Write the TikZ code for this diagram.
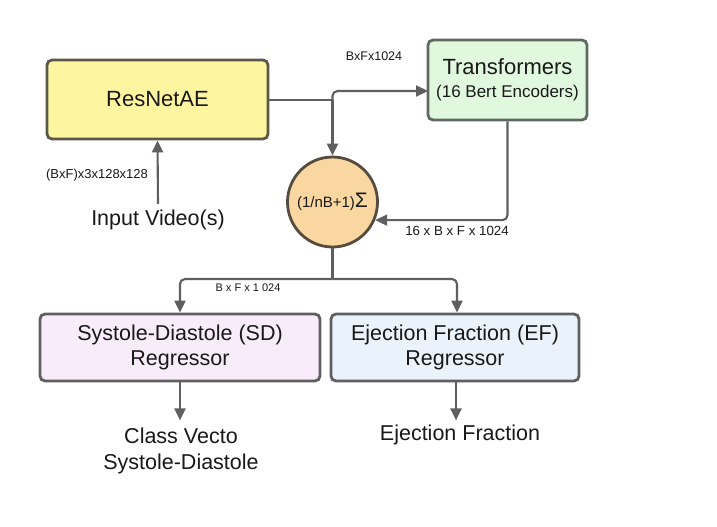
\documentclass[tikz,border=0pt]{standalone}
\usepackage{fontspec}
\setmainfont{Liberation Sans}
\usetikzlibrary{arrows.meta,calc}
\definecolor{linec}{RGB}{95,95,95}
\definecolor{resfill}{RGB}{255,245,160}
\definecolor{resdraw}{RGB}{90,88,72}
\definecolor{trfill}{RGB}{224,248,222}
\definecolor{trdraw}{RGB}{95,105,95}
\definecolor{cirfill}{RGB}{250,215,160}
\definecolor{cirdraw}{RGB}{85,75,62}
\definecolor{sdfill}{RGB}{249,236,250}
\definecolor{effill}{RGB}{234,242,252}
\definecolor{txt}{RGB}{25,25,25}
\tikzset{
  box/.style={draw=linec, line width=2.8pt, rounded corners=5pt, align=center,
    text=txt, font=\fontsize{21.5}{25}\selectfont, inner sep=0pt},
  conn/.style={draw=linec, line width=2.1pt},
  arr/.style={conn, -{Triangle[length=12pt,width=11pt]}},
  small/.style={text=txt, font=\fontsize{13}{15}\selectfont, inner sep=0pt},
  big/.style={text=txt, font=\fontsize{21.5}{26}\selectfont, align=center, inner sep=0pt},
}
\begin{document}
\begin{tikzpicture}[x=1pt,y=-1pt]
\useasboundingbox[fill=white] (0,0) rectangle (717,527);
\node[box, fill=resfill, draw=resdraw, minimum width=221pt, minimum height=79pt,
  font=\fontsize{22}{26}\selectfont] (res) at (157.5,99.5) {ResNetAE};
\node[box, fill=trfill, draw=trdraw, minimum width=159pt, minimum height=80pt,
  font=\fontsize{22}{26}\selectfont] (tr) at (507.5,80)
  {Transformers\\[-3pt]{\fontsize{17}{20}\selectfont(16 Bert Encoders)}};
\node[circle, draw=cirdraw, fill=cirfill, line width=2.8pt, minimum size=90pt, inner sep=0pt, text=txt,
  font=\fontsize{15}{18}\selectfont] (cir) at (332.5,202) {(1/nB+1){\fontsize{21}{21}\selectfont Σ}};
\node[box, fill=sdfill, minimum width=280pt, minimum height=67pt] (sd) at (180,347.5) {Systole-Diastole (SD)\\Regressor};
\node[box, fill=effill, minimum width=248pt, minimum height=67pt] (ef) at (455,347.5) {Ejection Fraction (EF)\\Regressor};
\node[big] (inp) at (158,220) {Input Video(s)};
\node[big] (out1) at (181,451) {Class Vecto\\Systole-Diastole};
\node[big] (out2) at (460,435) {Ejection Fraction};
\node[small, font=\fontsize{12.5}{15}\selectfont] (l1) at (374,56) {BxFx1024};
\node[small] (l2) at (97,175) {(BxF)x3x128x128};
\node[small, font=\fontsize{13.3}{15}\selectfont] (l3) at (457,231) {16 x B x F x 1024};
\node[small, font=\fontsize{11}{13}\selectfont] (l4) at (248,288) {B x F x 1 024};
\coordinate (j1) at (332.5,100);
\coordinate (tin) at (428,91);
\coordinate (j2) at (332.5,279);
\draw[conn] (res.east |- j1) -- (j1);
\draw[arr, rounded corners=5pt] (j1) |- (tin);
\draw[arr] (j1) -- (cir.north);
\draw[arr] (inp.north) ++(0,-6) -- (res.south);
\draw[arr, rounded corners=5pt] (tr.south) |- (cir.-23.6);
\draw[conn] (cir.south) -- (j2);
\draw[arr, rounded corners=5pt] (j2) -| (sd.north);
\draw[arr, rounded corners=5pt] (j2) -| ($(ef.north)+(2,0)$);
\draw[arr] (sd.south) -- ++(0,38);
\draw[arr] ($(ef.south)+(1,0)$) -- ++(0,38);
\end{tikzpicture}
\end{document}
